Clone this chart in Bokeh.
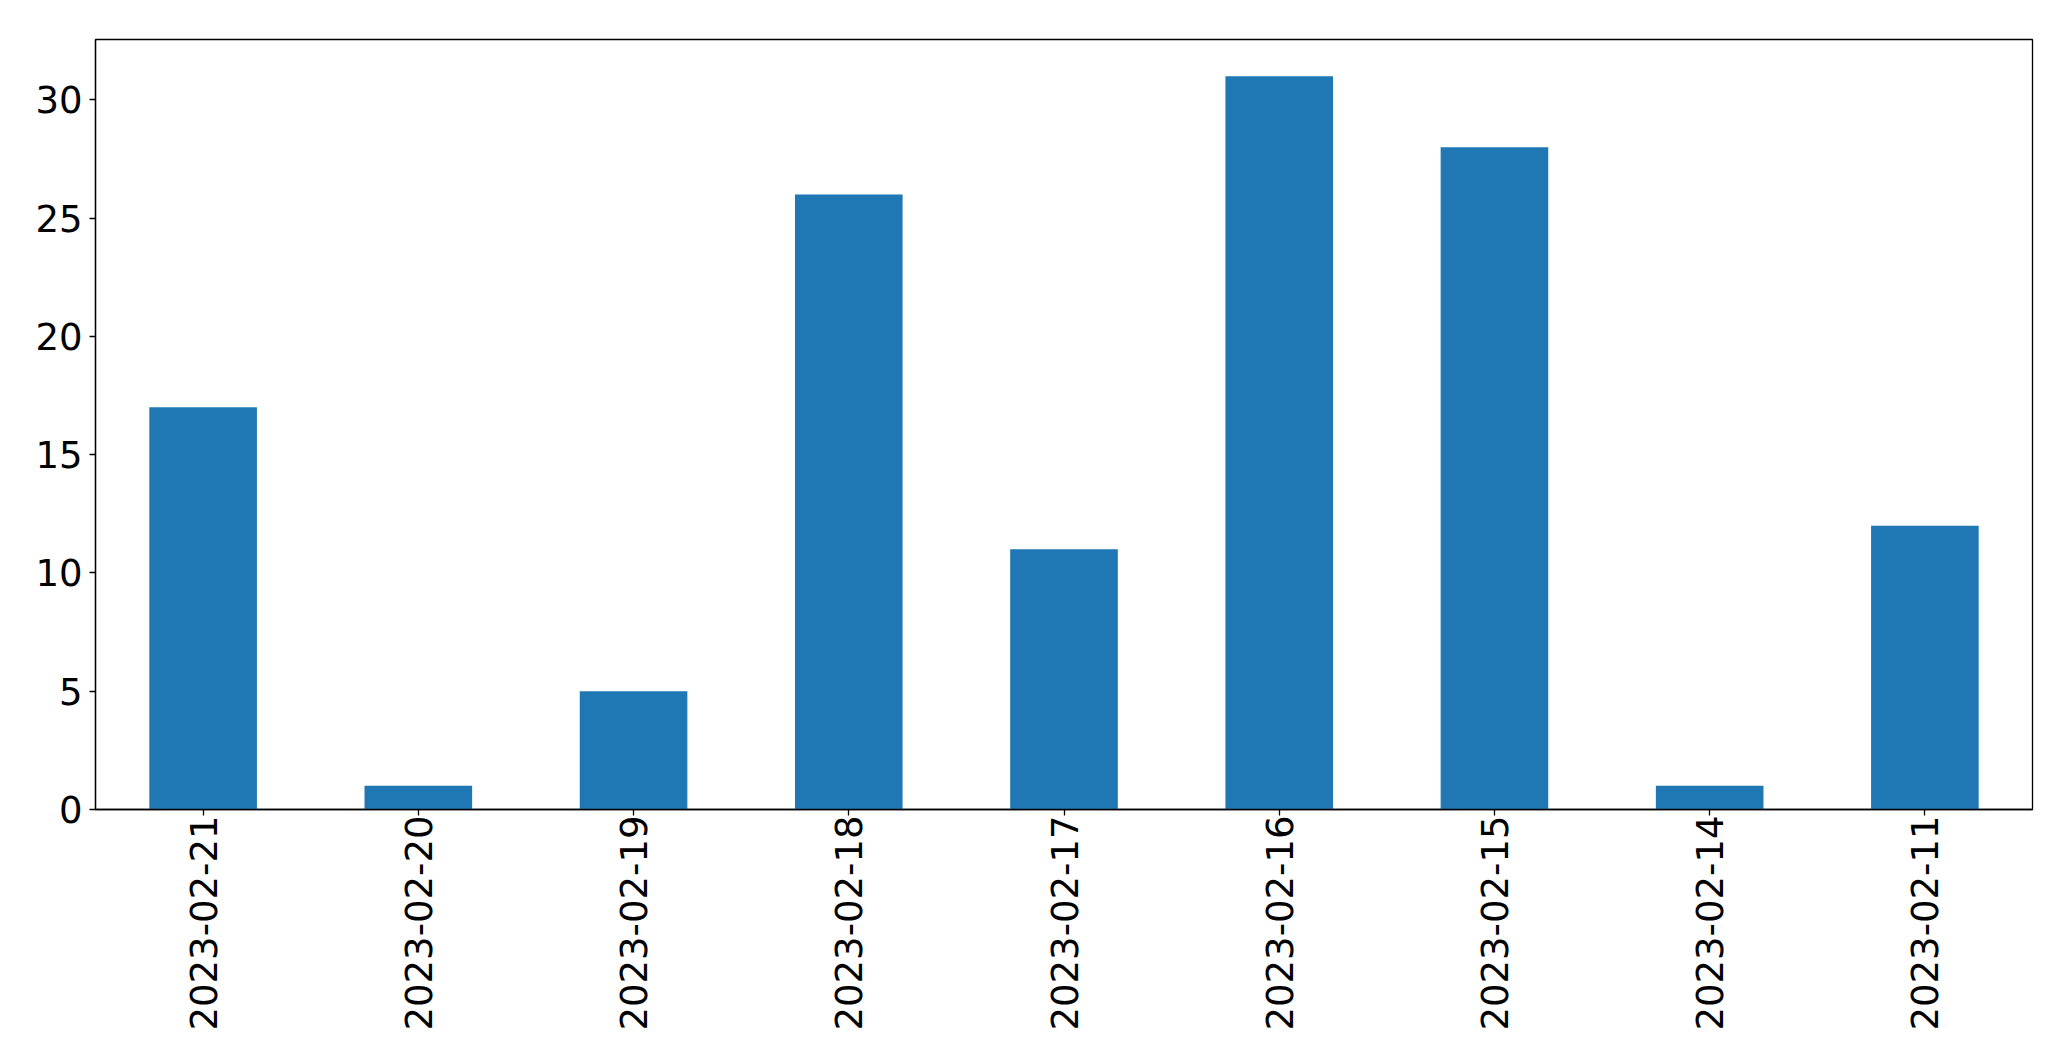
import math
from bokeh.plotting import figure
from bokeh.models import ColumnDataSource, FixedTicker, Range1d, FactorRange
from bokeh.embed import file_html
from bokeh.resources import INLINE

dates = ["2023-02-21", "2023-02-20", "2023-02-19", "2023-02-18", "2023-02-17",
         "2023-02-16", "2023-02-15", "2023-02-14", "2023-02-11"]
counts = [17, 1, 5, 26, 11, 31, 28, 1, 12]
y_ticks = [0, 5, 10, 15, 20, 25, 30]

src = ColumnDataSource(dict(date=dates, count=counts))

p = figure(width=2063, height=1053, output_backend="svg", toolbar_location=None,
           x_range=FactorRange(factors=dates, range_padding=0),
           y_range=Range1d(0, max(counts) * 1.05))
p.min_border_left = 95
p.min_border_right = 31
p.min_border_top = 39
p.min_border_bottom = 244

p.vbar(x="date", top="count", width=0.5, source=src, color="#1f77b4", line_color=None)

p.grid.visible = False
p.outline_line_color = "black"
p.outline_line_width = 1.3
p.outline_line_alpha = 1

for ax in (p.xaxis[0], p.yaxis[0]):
    ax.axis_line_color = "black"
    ax.axis_line_width = 1.3
    ax.major_tick_line_color = "black"
    ax.major_tick_line_width = 1.3
    ax.major_tick_out = 6
    ax.major_tick_in = 0
    ax.minor_tick_line_color = None
    ax.major_label_text_font = "DejaVu Sans"
    ax.major_label_text_font_size = "37px"
    ax.major_label_text_color = "black"

p.yaxis[0].ticker = FixedTicker(ticks=y_ticks)
p.yaxis[0].major_label_standoff = 7
p.xaxis[0].major_label_orientation = math.pi / 2
p.xaxis[0].major_label_standoff = 0

open("out.html", "w").write(file_html(p, INLINE))
